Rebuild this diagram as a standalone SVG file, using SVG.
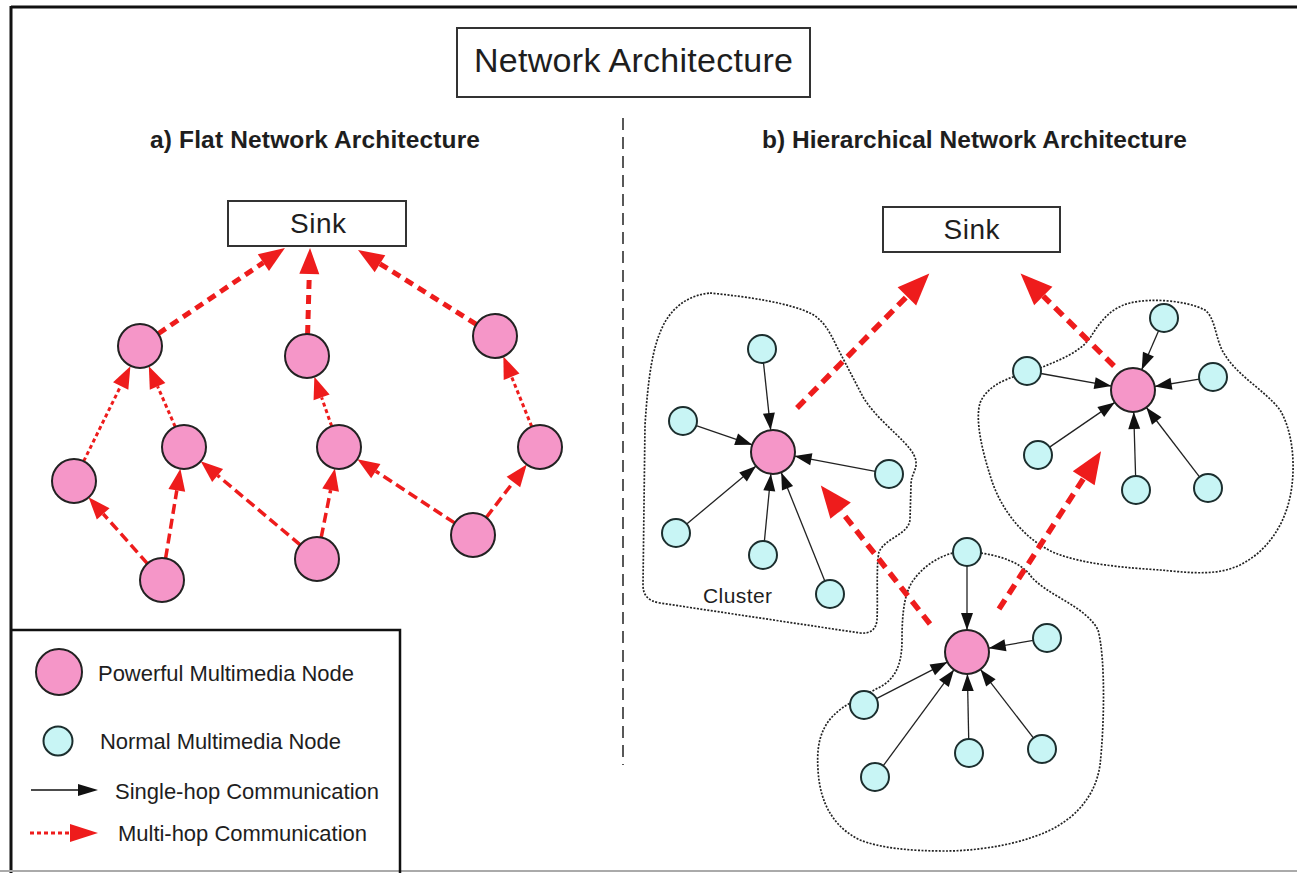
<svg xmlns="http://www.w3.org/2000/svg" width="1297" height="873" viewBox="0 0 1297 873">
<style>
text{font-family:"Liberation Sans",Arial,sans-serif;fill:#1e1e1e}
.t{font-size:22px}
.b{font-size:24.5px;font-weight:bold}
.box{fill:#fff;stroke:#333;stroke-width:2}
.pk{fill:#f596c8;stroke:#222;stroke-width:2}
.cy{fill:#c8f5f5;stroke:#1c2e2e;stroke-width:2}
.sink{fill:none;stroke:#ee1c1c;stroke-width:5;stroke-dasharray:9 6;marker-end:url(#mSink)}
.dot{fill:none;stroke:#ee1c1c;stroke-width:3;stroke-dasharray:4 3;marker-end:url(#mFlat)}
.dash{fill:none;stroke:#ee1c1c;stroke-width:3.5;stroke-dasharray:10 5;marker-end:url(#mFlat)}
.big{fill:none;stroke:#ee1c1c;stroke-width:5.5;stroke-dasharray:11 7;marker-end:url(#mBig)}
.blk{fill:none;stroke:#222;stroke-width:1.3;marker-end:url(#mBlk)}
.cl{fill:none;stroke:#222;stroke-width:1.7;stroke-dasharray:2 1.5}
</style>
<defs>
<marker id="mSink" markerUnits="userSpaceOnUse" viewBox="0 0 26 20" refX="0" refY="10" markerWidth="26" markerHeight="20" orient="auto" overflow="visible"><path d="M0,0 L26,10 L0,20 Z" fill="#ee1c1c"/></marker>
<marker id="mFlat" markerUnits="userSpaceOnUse" viewBox="0 0 22 17" refX="0" refY="8.5" markerWidth="22" markerHeight="17" orient="auto" overflow="visible"><path d="M0,0 L22,8.5 L0,17 Z" fill="#ee1c1c"/></marker>
<marker id="mBig" markerUnits="userSpaceOnUse" viewBox="0 0 32 26" refX="0" refY="13" markerWidth="32" markerHeight="26" orient="auto" overflow="visible"><path d="M0,0 L32,13 L0,26 Z" fill="#ee1c1c"/></marker>
<marker id="mBlk" markerUnits="userSpaceOnUse" viewBox="0 0 17 12" refX="17" refY="6" markerWidth="17" markerHeight="12" orient="auto" overflow="visible"><path d="M0,0 L17,6 L0,12 Z" fill="#111"/></marker>
<marker id="mLegB" markerUnits="userSpaceOnUse" viewBox="0 0 20 12" refX="0" refY="6" markerWidth="20" markerHeight="12" orient="auto" overflow="visible"><path d="M0,0 L20,6 L0,12 Z" fill="#111"/></marker>
<marker id="mLegR" markerUnits="userSpaceOnUse" viewBox="0 0 28 18" refX="0" refY="9" markerWidth="28" markerHeight="18" orient="auto" overflow="visible"><path d="M0,0 L28,9 L0,18 Z" fill="#ee1c1c"/></marker>
</defs>
<rect width="1297" height="873" fill="#fff"/>
<g id="frame">
<line x1="11" y1="7" x2="1297" y2="7" stroke="#111" stroke-width="3"/>
<line x1="11" y1="6" x2="11" y2="873" stroke="#111" stroke-width="3"/>
<line x1="0" y1="871" x2="1297" y2="871" stroke="#aaa" stroke-width="2"/>
<line x1="623" y1="118" x2="623" y2="765" stroke="#222" stroke-width="1.5" stroke-dasharray="12 7"/>
</g>
<g id="title">
<rect class="box" x="457" y="28" width="353" height="69"/>
<text x="633.5" y="72" text-anchor="middle" font-size="34" textLength="319">Network Architecture</text>
</g>
<text class="b" x="315" y="148" text-anchor="middle" textLength="330">a) Flat Network Architecture</text>
<text class="b" x="974.5" y="148" text-anchor="middle" textLength="425">b) Hierarchical Network Architecture</text>
<g id="sink-a">
<rect class="box" x="228" y="201" width="178" height="45"/>
<text x="318" y="233" text-anchor="middle" font-size="28" textLength="56">Sink</text>
</g>
<g id="sink-b">
<rect class="box" x="883" y="207" width="177" height="45"/>
<text x="971.5" y="239" text-anchor="middle" font-size="28" textLength="56">Sink</text>
</g>
<g id="clusters">
<path id="cluster1" class="cl" d="M 710 293 C 750 297, 790 303, 812 314 C 822 320, 828 328, 836 345 L 863 397 C 880 425, 915 445, 916 462 C 917 470, 911 474, 911 485 L 910 520 C 908 535, 885 538, 879 552 C 876 565, 878 600, 877 620 C 876 630, 870 634, 860 633 L 660 603 C 648 601, 643 595, 643 585 L 645 425 C 648 380, 652 345, 665 322 C 675 305, 690 295, 710 293 Z"/>
<path id="cluster2" class="cl" d="M 1040 368 C 1060 360, 1080 352, 1090 338 C 1100 322, 1110 308, 1130 303 C 1150 298, 1185 300, 1205 310 C 1215 318, 1215 335, 1222 350 C 1235 375, 1265 390, 1280 410 C 1292 430, 1295 460, 1292 485 C 1288 520, 1270 550, 1240 565 C 1215 577, 1185 572, 1160 570 C 1130 568, 1085 565, 1055 553 C 1025 540, 1000 510, 990 475 C 982 450, 975 420, 980 403 C 985 390, 1000 380, 1020 375 Z"/>
<path id="cluster3" class="cl" d="M 981 553 C 1000 556, 1020 562, 1030 575 C 1045 595, 1085 605, 1098 630 C 1106 660, 1104 730, 1100 765 C 1095 800, 1070 825, 1033 837 C 1005 847, 970 851, 945 851 C 910 851, 880 848, 860 840 C 835 828, 820 805, 818 770 C 816 740, 822 718, 852 702 L 878 688 C 895 680, 902 665, 902 640 C 902 610, 905 590, 915 578 C 925 565, 940 556, 953 553"/>
<text x="703" y="603" font-size="21" textLength="69">Cluster</text>
</g>
<g id="connectors">
<line class="sink" x1="158.2" y1="333.7" x2="263.4" y2="262.6"/>
<line class="sink" x1="307.6" y1="334" x2="309.3" y2="274"/>
<line class="sink" x1="476.4" y1="324.3" x2="380" y2="263.8"/>
<line class="dot" x1="83.7" y1="461.2" x2="120.7" y2="386"/>
<line class="dot" x1="175.2" y1="426.8" x2="157.6" y2="386.4"/>
<line class="dash" x1="147.4" y1="563.6" x2="103.2" y2="513.8"/>
<line class="dash" x1="165.6" y1="558.3" x2="176.8" y2="490.4"/>
<line class="dash" x1="300.2" y1="544.8" x2="217.6" y2="475.4"/>
<line class="dash" x1="321.2" y1="537.4" x2="330.6" y2="490.2"/>
<line class="dot" x1="331.7" y1="426.3" x2="321.6" y2="397.4"/>
<line class="dash" x1="454.6" y1="522.9" x2="375.8" y2="471.2"/>
<line class="dash" x1="486.3" y1="517.5" x2="513.4" y2="482"/>
<line class="dot" x1="531.7" y1="426.6" x2="511.6" y2="376.8"/>
<line class="blk" x1="763.5" y1="362.9" x2="770.7" y2="430.1"/>
<line class="blk" x1="696.2" y1="425.6" x2="752.2" y2="444.8"/>
<line class="blk" x1="875.3" y1="471.4" x2="794.6" y2="456.1"/>
<line class="blk" x1="686.7" y1="524" x2="756.1" y2="466.1"/>
<line class="blk" x1="764.4" y1="541.1" x2="770.9" y2="473.9"/>
<line class="blk" x1="824.8" y1="581" x2="781.2" y2="472.4"/>
<line class="blk" x1="1158.5" y1="330.9" x2="1141.7" y2="369.8"/>
<line class="blk" x1="1040.8" y1="373.5" x2="1111.4" y2="386.1"/>
<line class="blk" x1="1199.2" y1="379.2" x2="1154.7" y2="386.5"/>
<line class="blk" x1="1049.6" y1="447.1" x2="1114.8" y2="402.4"/>
<line class="blk" x1="1135.6" y1="476" x2="1133.7" y2="412"/>
<line class="blk" x1="1199.5" y1="476.9" x2="1146.4" y2="407.5"/>
<line class="blk" x1="967" y1="566" x2="967" y2="630"/>
<line class="blk" x1="1033.2" y1="640.4" x2="988.7" y2="648.2"/>
<line class="blk" x1="876.4" y1="698.6" x2="947.4" y2="662.1"/>
<line class="blk" x1="883.3" y1="765.7" x2="954" y2="669.7"/>
<line class="blk" x1="968.7" y1="739" x2="967.4" y2="674"/>
<line class="blk" x1="1033.4" y1="737.9" x2="980.5" y2="669.4"/>
<line class="big" x1="797" y1="408" x2="906.9" y2="296.4"/>
<line class="big" x1="930" y1="624" x2="840.6" y2="510.6"/>
<line class="big" x1="999" y1="609" x2="1083.7" y2="478.2"/>
<line class="big" x1="1114" y1="366" x2="1043.3" y2="296.1"/>
</g>
<g id="flat-nodes">
<circle id="n1" class="pk" cx="140" cy="346" r="22"/>
<circle id="n2" class="pk" cx="307" cy="356" r="22"/>
<circle id="n3" class="pk" cx="495" cy="336" r="22"/>
<circle id="n4" class="pk" cx="74" cy="481" r="22"/>
<circle id="n5" class="pk" cx="184" cy="447" r="22"/>
<circle id="n6" class="pk" cx="339" cy="447" r="22"/>
<circle id="n7" class="pk" cx="540" cy="447" r="22"/>
<circle id="n8" class="pk" cx="162" cy="580" r="22"/>
<circle id="n9" class="pk" cx="317" cy="559" r="22"/>
<circle id="n10" class="pk" cx="473" cy="535" r="22"/>
</g>
<g id="c1-nodes">
<circle id="p1" class="pk" cx="773" cy="452" r="22"/>
<circle id="c1a" class="cy" cx="762" cy="349" r="14"/>
<circle id="c1b" class="cy" cx="683" cy="421" r="14"/>
<circle id="c1c" class="cy" cx="889" cy="474" r="14"/>
<circle id="c1d" class="cy" cx="676" cy="533" r="14"/>
<circle id="c1e" class="cy" cx="763" cy="555" r="14"/>
<circle id="c1f" class="cy" cx="830" cy="594" r="14"/>
</g>
<g id="c2-nodes">
<circle id="p2" class="pk" cx="1133" cy="390" r="22"/>
<circle id="c2a" class="cy" cx="1164" cy="318" r="14"/>
<circle id="c2b" class="cy" cx="1027" cy="371" r="14"/>
<circle id="c2c" class="cy" cx="1213" cy="377" r="14"/>
<circle id="c2d" class="cy" cx="1038" cy="455" r="14"/>
<circle id="c2e" class="cy" cx="1136" cy="490" r="14"/>
<circle id="c2f" class="cy" cx="1208" cy="488" r="14"/>
</g>
<g id="c3-nodes">
<circle id="p3" class="pk" cx="967" cy="652" r="22"/>
<circle id="c3a" class="cy" cx="967" cy="552" r="14"/>
<circle id="c3b" class="cy" cx="1047" cy="638" r="14"/>
<circle id="c3c" class="cy" cx="864" cy="705" r="14"/>
<circle id="c3d" class="cy" cx="875" cy="777" r="14"/>
<circle id="c3e" class="cy" cx="969" cy="753" r="14"/>
<circle id="c3f" class="cy" cx="1042" cy="749" r="14"/>
</g>
<g id="legend">
<path d="M11,630 H400 V873" fill="none" stroke="#111" stroke-width="2.5"/>
<circle class="pk" cx="59" cy="672" r="23"/>
<text class="t" x="98" y="681" textLength="256">Powerful Multimedia Node</text>
<circle class="cy" cx="58" cy="741" r="14.5"/>
<text class="t" x="100" y="749" textLength="241">Normal Multimedia Node</text>
<line x1="31" y1="790" x2="78" y2="790" stroke="#111" stroke-width="1.5" marker-end="url(#mLegB)"/>
<text class="t" x="115" y="799" textLength="264">Single-hop Communication</text>
<line x1="30" y1="833" x2="70" y2="833" stroke="#ee1c1c" stroke-width="3" stroke-dasharray="4 3" marker-end="url(#mLegR)"/>
<text class="t" x="118" y="841" textLength="249">Multi-hop Communication</text>
</g>
</svg>
